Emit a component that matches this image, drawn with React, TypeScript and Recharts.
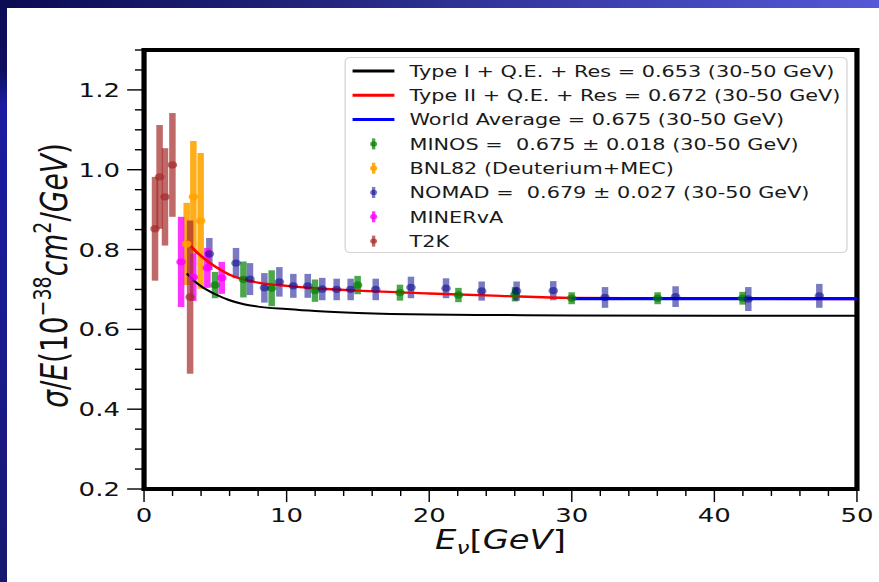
import React from "react";
import {
  ComposedChart,
  ErrorBar,
  Line,
  ReferenceArea,
  Scatter,
  XAxis,
  YAxis,
} from "recharts";

// the source figure is stretched horizontally, so the chart is drawn narrow and scaled in x
const STRETCH = 1.3;
const CHART_W = 676;
const CHART_H = 582;
const FONT = '"DejaVu Sans", "Liberation Sans", sans-serif';

// [E (GeV), sigma/E, error]
type Pt = [number, number, number];

const minos: Pt[] = [
  [4.98, 0.711, 0.033],
  [6.97, 0.725, 0.045],
  [8.95, 0.703, 0.045],
  [11.99, 0.697, 0.028],
  [14.98, 0.711, 0.023],
  [17.95, 0.692, 0.02],
  [22.05, 0.686, 0.018],
  [26.02, 0.688, 0.018],
  [29.99, 0.678, 0.015],
  [36.02, 0.678, 0.015],
  [41.98, 0.678, 0.016],
];

const bnl82: Pt[] = [
  [2.99, 0.814, 0.103],
  [3.46, 0.932, 0.14],
  [3.97, 0.872, 0.17],
];

const nomad: Pt[] = [
  [4.58, 0.789, 0.04],
  [6.45, 0.766, 0.038],
  [7.43, 0.726, 0.04],
  [8.44, 0.704, 0.037],
  [9.49, 0.719, 0.037],
  [10.47, 0.709, 0.03],
  [11.48, 0.709, 0.03],
  [12.5, 0.701, 0.028],
  [13.51, 0.7, 0.027],
  [14.49, 0.7, 0.027],
  [16.25, 0.7, 0.027],
  [18.72, 0.705, 0.027],
  [21.18, 0.703, 0.025],
  [23.68, 0.696, 0.024],
  [26.13, 0.696, 0.024],
  [28.7, 0.697, 0.024],
  [32.33, 0.68, 0.026],
  [37.28, 0.682, 0.026],
  [42.38, 0.676, 0.03],
  [47.36, 0.684, 0.03],
];

const minerva: Pt[] = [
  [2.6, 0.769, 0.113],
  [3.45, 0.731, 0.06],
  [4.44, 0.754, 0.05],
  [5.45, 0.729, 0.04],
];

const t2k: Pt[] = [
  [0.77, 0.852, 0.13],
  [1.09, 0.982, 0.13],
  [1.47, 0.932, 0.122],
  [1.99, 1.012, 0.13],
  [3.23, 0.681, 0.192],
];

const curveE = [3, 3.5, 4, 5, 6, 7, 8, 10, 12, 15, 20, 25, 30, 40, 50];
const typeI = [0.74, 0.722, 0.708, 0.688, 0.673, 0.663, 0.657, 0.651, 0.646, 0.641, 0.637, 0.636, 0.635, 0.634, 0.634];
const typeII = [0.824, 0.8, 0.784, 0.757, 0.737, 0.725, 0.717, 0.709, 0.703, 0.697, 0.69, 0.684, 0.679, 0.677, 0.676];
const worldE = [30, 50];
const worldAvg = [0.677, 0.677];

const xMajorTicks = [0, 10, 20, 30, 40, 50];
const xTickLabels = ["0", "10", "20", "30", "40", "50"];
const xMinorTicks = [2, 4, 6, 8, 12, 14, 16, 18, 22, 24, 26, 28, 32, 34, 36, 38, 42, 44, 46, 48];
const yMajorTicks = [0.2, 0.4, 0.6, 0.8, 1.0, 1.2];
const yTickLabels = ["0.2", "0.4", "0.6", "0.8", "1.0", "1.2"];
const yMinorTicks = [0.25, 0.3, 0.35, 0.45, 0.5, 0.55, 0.65, 0.7, 0.75, 0.85, 0.9, 0.95, 1.05, 1.1, 1.15, 1.25, 1.3];

const toRows = (pts: Pt[]) => pts.map(([x, y, err]) => ({ x, y, err }));
const toCurve = (xs: number[], ys: number[]) => xs.map((x, i) => ({ x, y: ys[i] }));

const lineSeries = [
  { name: "Type I + Q.E. + Res = 0.653 (30-50 GeV)", color: "#000000", width: 2, type: "monotone" as const, data: toCurve(curveE, typeI) },
  { name: "Type II + Q.E. + Res = 0.672 (30-50 GeV)", color: "#ff0000", width: 2.4, type: "monotone" as const, data: toCurve(curveE, typeII) },
  { name: "World Average = 0.675 (30-50 GeV)", color: "#0000ff", width: 3.2, type: "linear" as const, data: toCurve(worldE, worldAvg) },
];

const pointSeries = [
  { name: "MINOS =  0.675 ± 0.018 (30-50 GeV)", color: "rgba(0,128,0,0.7)", data: toRows(minos) },
  { name: "BNL82 (Deuterium+MEC)", color: "rgba(255,165,0,0.9)", data: toRows(bnl82) },
  { name: "NOMAD =  0.679 ± 0.027 (30-50 GeV)", color: "rgba(0,0,139,0.52)", data: toRows(nomad) },
  { name: "MINERvA", color: "rgba(255,0,255,0.8)", data: toRows(minerva) },
  { name: "T2K", color: "rgba(165,42,42,0.7)", data: toRows(t2k) },
];

function XTick({ x, y, payload }: any) {
  const i = xMajorTicks.indexOf(payload.value);
  const major = i >= 0;
  return (
    <g>
      <line x1={x} x2={x} y1={y} y2={y + (major ? 13 : 7)} stroke="#000" strokeWidth={1.1} />
      {major && (
        <text x={x} y={y + 33} textAnchor="middle" fontSize={20} fontFamily={FONT} fill="#111">
          {xTickLabels[i]}
        </text>
      )}
    </g>
  );
}

function YTick({ x, y, payload }: any) {
  const i = yMajorTicks.findIndex((m) => Math.abs(m - payload.value) < 1e-6);
  const major = i >= 0;
  return (
    <g>
      <line x1={x - (major ? 13 : 7)} x2={x} y1={y} y2={y} stroke="#000" strokeWidth={1.4} />
      {major && (
        <text x={x - 18.5} y={y + 7} textAnchor="end" fontSize={20} fontFamily={FONT} fill="#111">
          {yTickLabels[i]}
        </text>
      )}
    </g>
  );
}

function XLabel(props: any) {
  const vb = props.viewBox ?? { x: 110.8, y: 489, width: 548.4, height: 93 };
  return (
    <text x={vb.x + vb.width / 2} y={vb.y + 60} textAnchor="middle" fontSize={26} fontFamily={FONT} fill="#111">
      <tspan fontStyle="italic">E</tspan>
      <tspan fontStyle="italic" fontSize={18} dy={5}>ν</tspan>
      <tspan dy={-5}>[</tspan>
      <tspan fontStyle="italic">GeV</tspan>
      <tspan>]</tspan>
    </text>
  );
}

function YLabel(props: any) {
  const vb = props.viewBox ?? { x: 0, y: 50, width: 110.8, height: 439 };
  const cx = vb.x + 51.5;
  const cy = vb.y + vb.height / 2 + 6;
  return (
    <text transform={`translate(${cx},${cy}) rotate(-90)`} textAnchor="middle" fontSize={28} fontFamily={FONT} fill="#111">
      <tspan fontStyle="italic">σ</tspan>
      <tspan>/</tspan>
      <tspan fontStyle="italic">E</tspan>
      <tspan>(10</tspan>
      <tspan fontSize={19} dy={-12}>−38</tspan>
      <tspan fontStyle="italic" dy={12}>cm</tspan>
      <tspan fontSize={19} dy={-12}>2</tspan>
      <tspan dy={12}>/</tspan>
      <tspan fontStyle="italic">GeV</tspan>
      <tspan>)</tspan>
    </text>
  );
}

function Dot({ cx, cy, fill }: any) {
  if (cx == null || cy == null) return null;
  return <circle cx={cx} cy={cy} r={3.7} fill={fill} />;
}

function LegendBox() {
  const rows = [...lineSeries.map((s) => ({ ...s, kind: "line" })), ...pointSeries.map((s) => ({ ...s, kind: "point" }))];
  return (
    <svg
      width={387}
      height={196}
      style={{ position: "absolute", left: 264.6, top: 57, overflow: "visible", pointerEvents: "none" }}
    >
      <rect x={0.5} y={0.5} width={386} height={195} rx={4} fill="#fff" fillOpacity={0.8} stroke="#d6d6d6" />
      {rows.map((r, i) => {
        const cy = 14 + i * 24.3;
        return (
          <g key={r.name}>
            {r.kind === "line" ? (
              <line x1={6.2} x2={38.4} y1={cy} y2={cy} stroke={r.color} strokeWidth={3} />
            ) : (
              <g>
                <line x1={22.4} x2={22.4} y1={cy - 5.5} y2={cy + 5.5} stroke={r.color} strokeWidth={2.6} />
                <circle cx={22.4} cy={cy} r={2.7} fill={r.color} />
              </g>
            )}
            <text x={50} y={cy + 5.8} fontSize={16} fontFamily={FONT} fill="#1a1a1a" style={{ whiteSpace: "pre" }}>
              {r.name}
            </text>
          </g>
        );
      })}
    </svg>
  );
}

export default function App() {
  return (
    <div style={{ position: "fixed", left: 0, top: 0, width: 879, height: 582, background: "#fff", overflow: "hidden" }}>
      <div
        style={{
          position: "absolute",
          left: 0,
          top: 0,
          width: 879,
          height: 8,
          background: "linear-gradient(to right, #0b0b52 0%, #22237a 35%, #3d41b0 70%, #5358d6 100%)",
        }}
      />
      <div
        style={{
          position: "absolute",
          left: 0,
          top: 0,
          width: 7,
          height: 582,
          background: "linear-gradient(to bottom, #0c0c56 0%, #0e0e5e 12%, #1b1ca0 18%, #1a1a90 55%, #18186e 100%)",
        }}
      />
      <div
        style={{
          position: "absolute",
          left: 0,
          top: 0,
          width: CHART_W,
          height: CHART_H,
          transform: `scaleX(${STRETCH})`,
          transformOrigin: "0 0",
        }}
      >
        <ComposedChart width={CHART_W} height={CHART_H} margin={{ top: 50, right: 16.8, bottom: 0, left: 0 }}>
          <XAxis
            dataKey="x"
            type="number"
            domain={[0, 50]}
            ticks={[...xMajorTicks, ...xMinorTicks].sort((a, b) => a - b)}
            interval={0}
            height={93}
            axisLine={false}
            tickLine={false}
            tickSize={0}
            tickMargin={0}
            tick={<XTick />}
            label={<XLabel />}
            allowDataOverflow
          />
          <YAxis
            type="number"
            domain={[0.2, 1.3]}
            ticks={[...yMajorTicks, ...yMinorTicks].sort((a, b) => a - b)}
            interval={0}
            width={110.8}
            axisLine={false}
            tickLine={false}
            tickSize={0}
            tickMargin={0}
            tick={<YTick />}
            label={<YLabel />}
            allowDataOverflow
          />
          {pointSeries.map((s) => (
            <Scatter
              key={s.name}
              name={s.name}
              data={s.data}
              dataKey="y"
              fill={s.color}
              shape={<Dot />}
              isAnimationActive={false}
            >
              <ErrorBar dataKey="err" direction="y" width={0} stroke={s.color} strokeWidth={5} isAnimationActive={false} />
            </Scatter>
          ))}
          {lineSeries.map((s) => (
            <Line
              key={s.name}
              data={s.data}
              dataKey="y"
              type={s.type}
              stroke={s.color}
              strokeWidth={s.width}
              dot={false}
              activeDot={false}
              isAnimationActive={false}
            />
          ))}
          <ReferenceArea x1={0} x2={50} y1={0.2} y2={1.3} fill="none" stroke="#000" strokeWidth={4} />
        </ComposedChart>
        <LegendBox />
      </div>
    </div>
  );
}
